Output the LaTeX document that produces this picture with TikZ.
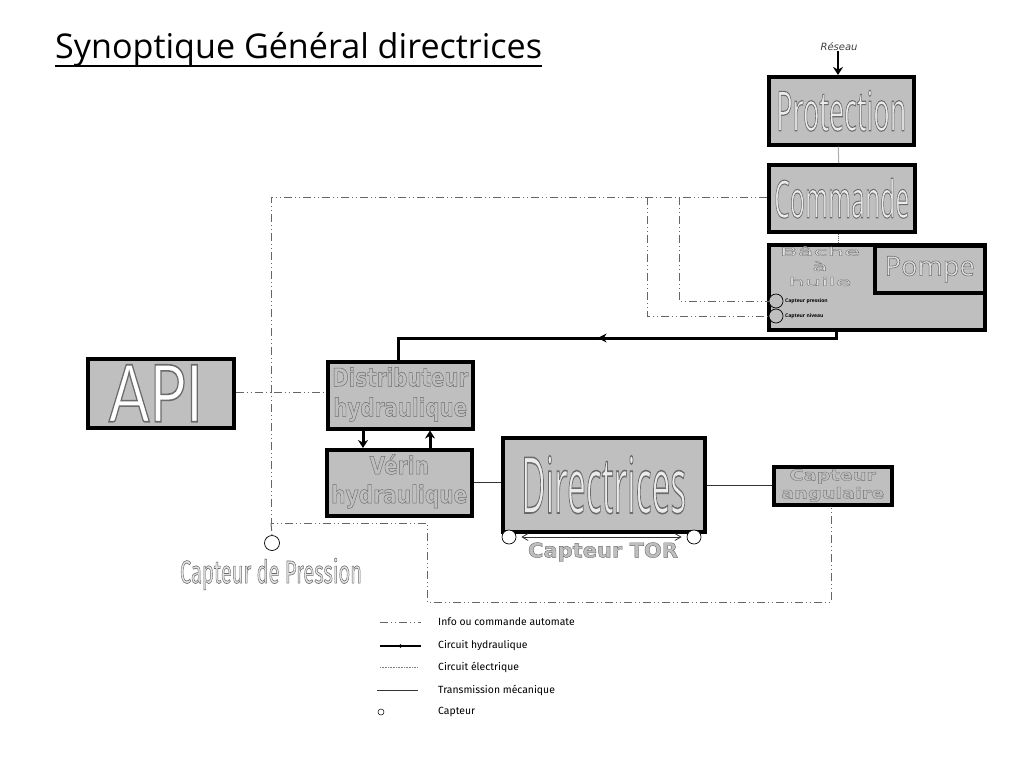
\documentclass[tikz,border=0pt]{standalone}
\usepackage{fontspec}
\usepackage{graphicx}
\setmainfont{Open Sans}
\newfontfamily\wide{DejaVu Sans}
\newfontfamily\legendfont{Fira Sans}
\newfontfamily\roundfont{Lato}
\usetikzlibrary{positioning, arrows.meta, calc, decorations.markings}
% outlined text: fill colour, width, height, text
\newcommand{\outl}[4]{\resizebox*{#2pt}{#3pt}{\color{#1}\special{pdf:code 2 Tr 0.2 w 0.42 G}#4\special{pdf:code 0 Tr 0 G}}}
\begin{document}
\begin{tikzpicture}[
    x=1pt, y=-1pt,
    box/.style={draw, line width=3.5pt, fill=black!25, inner sep=0pt, align=center, anchor=north west},
    capt/.style={draw, circle, line width=0.7pt, fill=white, minimum size=14pt, inner sep=0pt},
    ctrl/.style={black!60, line width=1pt, dash pattern=on 8pt off 3pt on 1pt off 3pt on 1pt off 3pt},
    hyd/.style={line width=3pt},
    arr/.style={hyd, -{Stealth[length=8pt, width=10pt]}},
    hydmid/.style={hyd, postaction={decorate}, decoration={markings, mark=at position 0.525 with {\arrow{Stealth[length=9pt, width=9pt]}}}},
    elec/.style={black!60, line width=1pt, densely dotted},
    meca/.style={black!80, line width=1pt},
    lgd/.style={font=\legendfont\fontsize{10.4}{12}\selectfont, anchor=west, inner sep=0pt}
  ]
  \useasboundingbox (0,0) rectangle (1024,768);

  % title
  \node[anchor=base west, inner sep=0pt] (title) at (55,59) {\fontsize{34.1}{40}\selectfont Synoptique Général directrices};
  \draw[line width=2pt] ([yshift=-7pt]title.base west) -- ([yshift=-7pt]title.base east);

  % right column
  \node[font=\wide\itshape\fontsize{10}{12}\selectfont, inner sep=0pt, text=black!75] (reseau) at (839,47) {Réseau};
  \node[box, minimum width=145pt, minimum height=68pt] (protection) at (767,75) {\outl{black!8}{130}{41}{Protection}};
  \node[box, minimum width=146pt, minimum height=67pt] (commande) at (767,163) {\outl{black!8}{135}{40}{Commande}};
  \node[box, minimum width=216pt, minimum height=85pt] (bache) at (767,243) {};
  \node[box, minimum width=110pt, minimum height=47pt] (pompe) at (873,244) {\outl{black!12}{90}{26}{Pompe}};
  \node[inner sep=0pt] (bachetxt) at (820,268) {\outl{black!12}{80}{44}{\wide\begin{tabular}{@{}c@{}}Bâche\\[1pt]à\\[1pt]huile\end{tabular}}};
  \node[capt, fill=black!25, minimum size=14pt] (captP) at (776,301) {};
  \node[capt, fill=black!25, minimum size=14pt] (captN) at (776,316) {};
  \node[font=\fontsize{5}{6}\selectfont\bfseries, anchor=west, inner sep=0pt] (txtP) at (785,301) {Capteur pression};
  \node[font=\fontsize{5}{6}\selectfont\bfseries, anchor=west, inner sep=0pt] (txtN) at (785,316) {Capteur niveau};

  % left part
  \node[box, minimum width=146pt, minimum height=69pt] (api) at (86,357) {\kern-10pt\outl{white}{94}{57}{\roundfont API}};
  \node[box, minimum width=145pt, minimum height=67pt] (distrib) at (326,360) {\outl{black!25}{136}{60}{\wide\bfseries\begin{tabular}{@{}c@{}}Distributeur\\hydraulique\end{tabular}}};
  \node[box, minimum width=145pt, minimum height=66pt] (verin) at (325,448) {\outl{black!25}{136}{58}{\wide\bfseries\begin{tabular}{@{}c@{}}Vérin\\hydraulique\end{tabular}}};
  \node[box, minimum width=202pt, minimum height=94pt] (directrices) at (501,436) {\outl{black!8}{165}{58}{Directrices}};
  \node[box, minimum width=118pt, minimum height=38pt] (angulaire) at (772,465) {\outl{black!25}{103}{36}{\wide\bfseries\begin{tabular}{@{}c@{}}Capteur\\angulaire\end{tabular}}};

  % sensors
  \node[capt] (captTORa) at (509,537) {};
  \node[capt] (captTORb) at (694,537) {};
  \node[inner sep=0pt] (tortxt) at (603,552) {\outl{black!25}{150}{19}{\wide\bfseries Capteur TOR}};
  \node[capt, minimum size=15pt] (captPr) at (272,543) {};
  \node[inner sep=0pt] (prtxt) at (271,574) {\outl{black!10}{182}{32}{\legendfont Capteur de Pression}};

  % junctions
  \coordinate (jhaut) at (271,197);
  \coordinate (japi) at (271,392);
  \coordinate (jbas) at (271,523);
  \coordinate (jP) at (679,197);
  \coordinate (jN) at (647,197);
  \coordinate (a1) at (427,523);
  \coordinate (a2) at (427,602);
  \coordinate (a3) at (831,602);

  % info / commande
  \draw[ctrl] (commande.west |- jhaut) -- (jhaut) -- (jbas) -- (a1) -- (a2) -- (a3) -- (a3 |- angulaire.south);
  \draw[ctrl] (api.east |- japi) -- (distrib.west |- japi);
  \draw[ctrl] (jbas) -- (captPr.north);
  \draw[ctrl] (jP) |- (captP.west);
  \draw[ctrl] (jN) |- (captN.west);

  % electrique
  \draw[arr, line width=1.3pt] (reseau.south -| 838,0) -- (protection.north -| 838,0);
  \draw[elec] ([xshift=-3pt]protection.south) -- ([xshift=-3pt]commande.north);
  \draw[elec] ([xshift=-3pt]commande.south) -- ([xshift=-3pt]bache.north -| commande.south);

  % hydraulique
  \coordinate (h1) at (836,338);
  \coordinate (h2) at (398,338);
  \draw[hydmid] (bache.south -| h1) -- (h1) -- (h2) -- (h2 |- distrib.north);
  \draw[arr] (distrib.south -| 363,0) -- (verin.north -| 363,0);
  \draw[arr] (verin.north -| 430,0) -- (distrib.south -| 430,0);

  % mecanique
  \draw[meca] (verin.east |- 0,482) -- (directrices.west |- 0,482);
  \draw[meca] (directrices.east |- 0,485) -- (angulaire.west |- 0,485);
  \draw[black!80, line width=0.8pt, {Straight Barb[length=6pt, width=7pt]}-{Straight Barb[length=6pt, width=7pt]}] ([xshift=5pt]captTORa.east) -- ([xshift=-5pt]captTORb.west);

  % legende
  \coordinate (l1a) at (380,622); \coordinate (l1b) at (421,622);
  \coordinate (l2a) at (380,646); \coordinate (l2b) at (421,646);
  \coordinate (l3a) at (380,667); \coordinate (l3b) at (417,667);
  \coordinate (l4a) at (377,690); \coordinate (l4b) at (418,690);
  \draw[ctrl, line width=0.5pt] (l1a) -- (l1b);
  \draw[line width=1.3pt, postaction={decorate}, decoration={markings, mark=at position 0.5 with {\fill (0,0) circle (1.8pt);}}] (l2a) -- (l2b);
  \draw[black!50, line width=0.6pt, densely dotted] (l3a) -- (l3b);
  \draw[black!80, line width=0.8pt] (l4a) -- (l4b);
  \node[capt, minimum size=6pt, line width=0.5pt] (l5) at (381,712) {};
  \node[lgd] (t1) at (438,622) {Info ou commande automate};
  \node[lgd] (t2) at (438,646) {Circuit hydraulique};
  \node[lgd] (t3) at (438,667) {Circuit électrique};
  \node[lgd] (t4) at (438,690) {Transmission mécanique};
  \node[lgd] (t5) at (438,712) {Capteur};
\end{tikzpicture}
\end{document}
